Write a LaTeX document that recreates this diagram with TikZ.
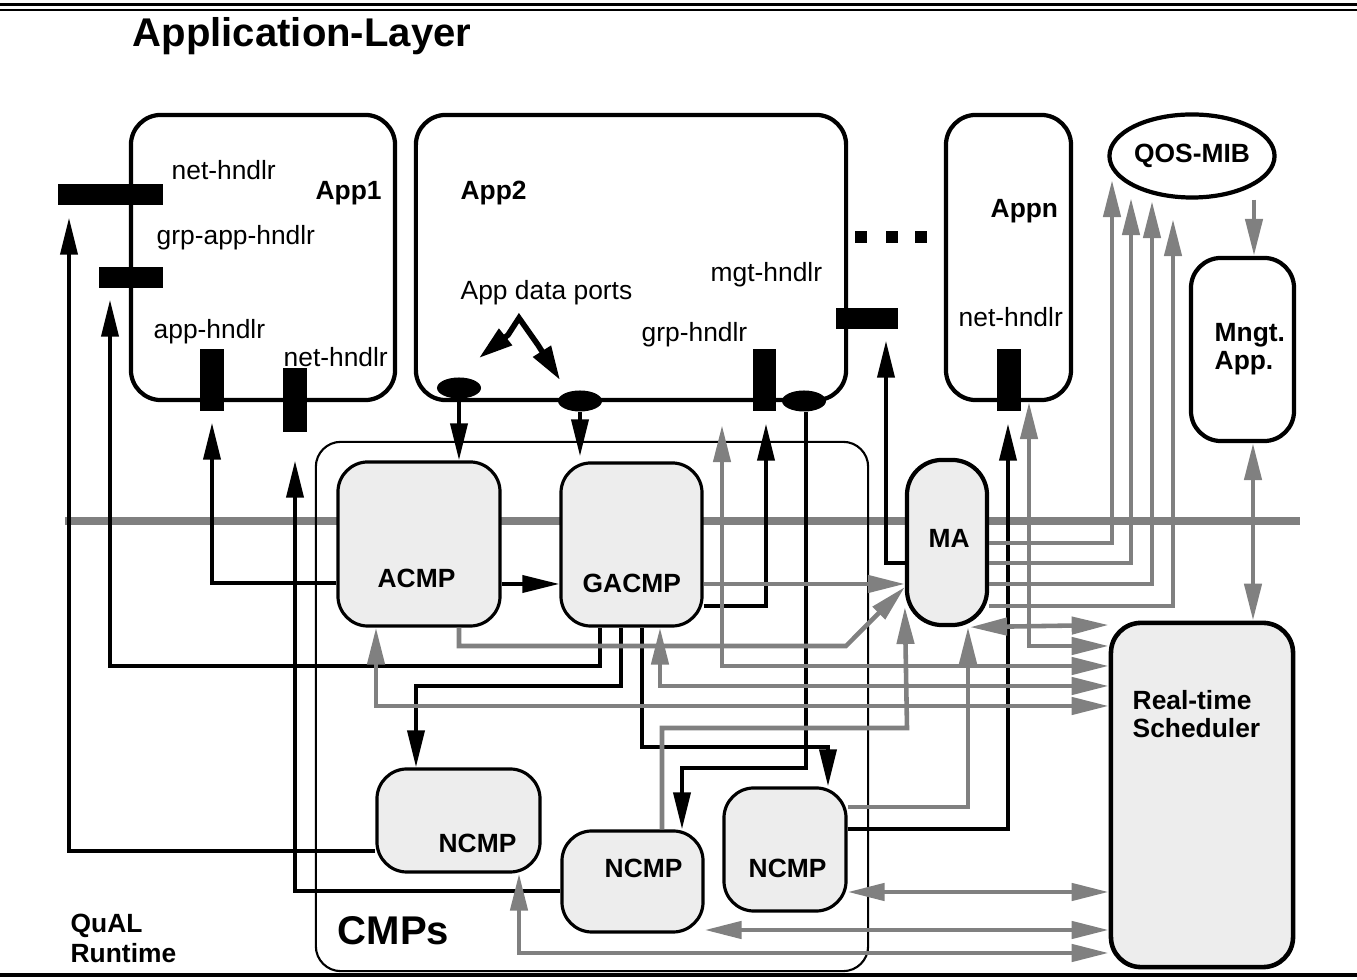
\documentclass[tikz,border=0pt]{standalone}
\usepackage{fontspec}
\setmainfont{Liberation Sans}
\usetikzlibrary{arrows.meta,shapes.geometric}
\definecolor{lg}{gray}{0.5}
\definecolor{bf}{gray}{0.93}
\newcommand\lblsize{\fontsize{7.5}{9}\selectfont}
\newcommand\bigsize{\fontsize{11.4}{13}\selectfont}
\begin{document}
\begin{tikzpicture}[x=0.01cm,y=-0.01cm,
  >={Triangle[length=3.7mm,width=1.7mm]},
  appbox/.style={draw,line width=1.2pt,rounded corners=3mm,inner sep=0,fill=white},
  cmpbox/.style={draw,line width=0.9pt,rounded corners=3mm,inner sep=0,fill=bf},
  hnd/.style={fill=black,inner sep=0},
  port/.style={ellipse,fill=black,inner sep=0,minimum width=4.4mm,minimum height=2.1mm},
  lbl/.style={font=\lblsize,inner sep=0,anchor=base west},
  blbl/.style={font=\lblsize\bfseries,inner sep=0,anchor=base west},
  big/.style={font=\bigsize\bfseries,inner sep=0,anchor=base west},
  blk/.style={draw=black,line width=1.1pt,->},
  gry/.style={draw=lg,line width=1.3pt,->},
  gry2/.style={draw=lg,line width=1.3pt,<->},
  bus/.style={draw=lg,line width=2pt},
]
\useasboundingbox (0,0) rectangle (1357,980);
% rules
\draw[line width=1pt] (0,4.5) -- (1357,4.5);
\draw[line width=0.6pt] (0,10) -- (1357,10);
\draw[line width=0.9pt] (0,975) -- (1357,975);
\node[big] (title) at (132,47) {Application-Layer};
% bus
\draw[bus] (65,521) -- (1300,521);
% CMPs container
\node[draw,line width=0.6pt,rounded corners=2.5mm,inner sep=0,minimum width=55.2mm,minimum height=52.9mm] (cmps) at (592,706.5) {};
\node[big] (cmpslbl) at (337,945) {CMPs};
% application boxes
\node[appbox,minimum width=26.4mm,minimum height=28.5mm] (app1) at (263,257.5) {};
\node[appbox,minimum width=43mm,minimum height=28.5mm] (app2) at (631,257.5) {};
\node[appbox,minimum width=12.5mm,minimum height=28.5mm] (appn) at (1008.5,257.5) {};
\node[ellipse,draw,line width=1.2pt,inner sep=0,minimum width=16.5mm,minimum height=8.3mm,font=\lblsize\bfseries] (qos) at (1192,156) {QOS-MIB};
\node[appbox,minimum width=10.3mm,minimum height=18.3mm] (mngt) at (1242.5,349.5) {};
% CMP boxes
\node[cmpbox,minimum width=16.2mm,minimum height=16.4mm] (acmp) at (419,544) {};
\node[cmpbox,minimum width=14.1mm,minimum height=16.3mm] (gacmp) at (631.5,544.5) {};
\node[cmpbox,line width=1.2pt,rounded corners=3.5mm,minimum width=8mm,minimum height=16.5mm] (ma) at (947,542.5) {};
\node[cmpbox,line width=1.3pt,rounded corners=3mm,minimum width=18.2mm,minimum height=34.4mm] (sched) at (1202,795) {};
\node[cmpbox,minimum width=16.3mm,minimum height=10.3mm] (ncmp1) at (458.5,820.5) {};
\node[cmpbox,minimum width=14.1mm,minimum height=10.1mm] (ncmp2) at (632.5,881.5) {};
\node[cmpbox,minimum width=12.2mm,minimum height=12.3mm] (ncmp3) at (785,849.5) {};
% handlers
\node[hnd,minimum width=10.5mm,minimum height=2.1mm] (hnet1) at (110.5,194.5) {};
\node[hnd,minimum width=6.4mm,minimum height=2.1mm] (hgrpapp) at (131,277.5) {};
\node[hnd,minimum width=2.4mm,minimum height=6.2mm] (happ) at (212,380) {};
\node[hnd,minimum width=2.4mm,minimum height=6.4mm] (hnet2) at (295,400) {};
\node[hnd,minimum width=2.3mm,minimum height=6.2mm] (hgrp) at (764.5,380) {};
\node[hnd,minimum width=6.2mm,minimum height=2.1mm] (hmgt) at (867,318.5) {};
\node[hnd,minimum width=2.4mm,minimum height=6.2mm] (hnetn) at (1009,380) {};
\node[port] (p1) at (459,388) {};
\node[port] (p2) at (580,401) {};
\node[port] (p3) at (804,401) {};
% dots
\node[hnd,minimum width=1.2mm,minimum height=1.2mm] (d1) at (861,237) {};
\node[hnd,minimum width=1.2mm,minimum height=1.2mm] (d2) at (892,237) {};
\node[hnd,minimum width=1.2mm,minimum height=1.2mm] (d3) at (921,237) {};
% labels
\node[lbl] (l1) at (171,180) {net-hndlr};
\node[blbl] (l2) at (315,200) {App1};
\node[lbl] (l3) at (156,245) {grp-app-hndlr};
\node[lbl] (l4) at (153,339) {app-hndlr};
\node[lbl] (l5) at (283,367) {net-hndlr};
\node[blbl] (l6) at (460,200) {App2};
\node[lbl] (l7) at (460,300) {App data ports};
\node[lbl] (l8) at (710,282) {mgt-hndlr};
\node[lbl] (l9) at (641,342) {grp-hndlr};
\node[blbl] (l10) at (990,218) {Appn};
\node[lbl] (l11) at (958,327) {net-hndlr};
\node[blbl] (l12) at (1214,342) {Mngt.};
\node[blbl] (l13) at (1214,370) {App.};
\node[blbl] (l14) at (928,548) {MA};
\node[blbl] (l15) at (377,588) {ACMP};
\node[blbl] (l16) at (582,593) {GACMP};
\node[blbl] (l17) at (438,853) {NCMP};
\node[blbl] (l18) at (604,878) {NCMP};
\node[blbl] (l19) at (748,878) {NCMP};
\node[blbl] (l20) at (1132,710) {Real-time};
\node[blbl] (l21) at (1132,738) {Scheduler};
\node[blbl] (l22) at (70,933) {QuAL};
\node[blbl] (l23) at (70,963) {Runtime};
% App data ports pointer
\draw[line width=1.6pt,<->,>={Triangle[length=3.4mm,width=2mm]}] (479,358) -- (508,335) -- (519,318) -- (538,345) -- (560,380);
% black connectors
\draw[blk,shorten >=0.12cm] (ncmp1.west |- 0,851) -- (69,851) -- (hnet1.south -| 69,0);
\draw[blk,shorten >=0.11cm] (gacmp.south -| 600,0) -- (600,666) -- (110,666) -- (hgrpapp.south -| 110,0);
\draw[blk,shorten >=0.11cm] (acmp.west |- 0,583) -| (happ.south);
\draw[blk,shorten >=0.28cm] (ncmp2.west |- 0,891) -| (hnet2.south);
\draw[blk] (acmp.east |- 0,584) -- (gacmp.west |- 0,584);
\draw[blk] (p1.south) -- (p1.south |- acmp.north);
\draw[blk,shorten >=0.05cm] (p2.south) -- (p2.south |- gacmp.north);
\draw[blk,shorten >=0.12cm] (gacmp.east |- 0,606) -| (hgrp.south -| 766,0);
\draw[blk] (gacmp.south -| 621,0) -- (621,686) -| (ncmp1.north -| 416,0);
\draw[blk] (gacmp.south -| 642,0) -- (642,747) -| (ncmp3.north -| 828,0);
\draw[blk] (p3.south -| 806,0) -- (806,768) -| (ncmp2.north -| 682,0);
\draw[blk,shorten >=0.11cm] (ma.west |- 0,563) -| (hmgt.south -| 886,0);
\draw[blk,shorten >=0.12cm] (ncmp3.east |- 0,829) -| (hnetn.south -| 1008,0);
% gray connectors
\draw[gry] (gacmp.east |- 0,584) -- (ma.west |- 0,584);
\draw[gry] (acmp.south -| 459,0) -- (459,646) -- (846,646) -- (ma.west |- 0,587);
\draw[gry,shorten >=-0.195cm] (ma.east |- 0,543) -| (qos.south -| 1112,0);
\draw[gry,shorten >=-0.015cm] (ma.east |- 0,563) -| (qos.south -| 1131,0);
\draw[gry,shorten >=0.015cm] (ma.east |- 0,584) -| (qos.south -| 1152,0);
\draw[gry,shorten >=0.195cm] (ma.east |- 0,606) -| (qos.south -| 1173,0);
\draw[gry] (qos.south -| 1254,0) -- (mngt.north -| 1254,0);
\draw[gry2] (mngt.south -| 1253,0) -- (sched.north -| 1253,0);
\draw[gry2] (ma.south -| 970,0) -- (sched.west |- 0,625);
\draw[gry2] (appn.south -| 1029,0) -- (1029,646) -- (sched.west |- 0,646);
\draw[gry2,shorten <=0.23cm] (app2.south -| 722,0) -- (722,666) -- (sched.west |- 0,666);
\draw[gry2] (gacmp.south -| 660,0) -- (660,686) -- (sched.west |- 0,686);
\draw[gry2] (acmp.south -| 376,0) -- (376,706) -- (sched.west |- 0,706);
\draw[gry] (ncmp2.north -| 662,0) -- (662,728) -- (907,728) -- (ma.west |- 0,607);
\draw[gry] (ncmp3.east |- 0,807) -| (ma.south -| 968,0);
\draw[gry2] (ncmp3.east |- 0,892) -- (sched.west |- 0,892);
\draw[gry2] (ncmp2.east |- 0,930) -- (sched.west |- 0,930);
\draw[gry2] (ncmp1.south -| 519,0) -- (519,953) -- (sched.west |- 0,953);
\end{tikzpicture}
\end{document}
